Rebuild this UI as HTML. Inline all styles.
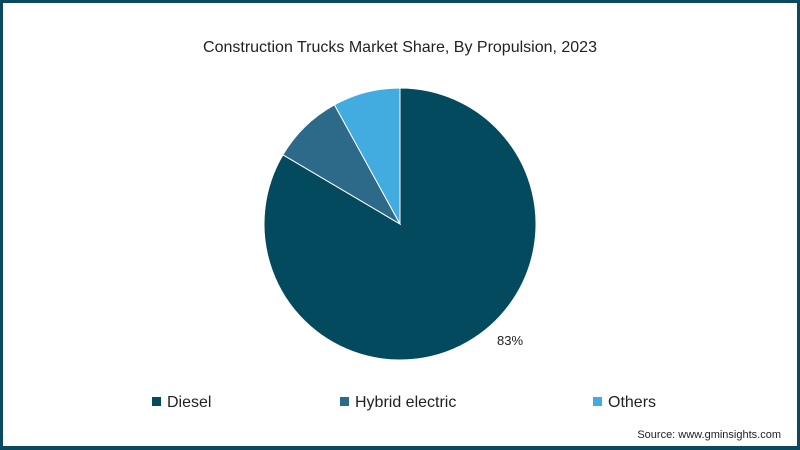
<!DOCTYPE html>
<html><head><meta charset="utf-8"><style>
body{margin:0;width:800px;height:450px;overflow:hidden;font-family:"Liberation Sans",sans-serif;}
#frame{position:absolute;left:0;top:0;width:794px;height:443px;border:3px solid #0b4a5e;border-bottom-width:4px;background:#fff;}
</style></head><body>
<div id="frame"></div>
<svg id="chart" width="800" height="450" style="position:absolute;left:0;top:0">
<text x="400" y="52" text-anchor="middle" font-size="16" fill="#222">Construction Trucks Market Share, By Propulsion, 2023</text>
<g id="slices"></g>
<text x="497" y="345" font-size="13" fill="#222">83%</text>
<g id="legend"></g>
<text x="781" y="438" text-anchor="end" font-size="11" fill="#222">Source: www.gminsights.com</text>
</svg>
<script>
const categories=["Diesel","Hybrid electric","Others"];
const values=[83.5,8.5,8];
const colors=["#034a5f","#2d6a8a","#42abe0"];
const ns="http://www.w3.org/2000/svg";
const cx=400,cy=224,r=136;
const total=values.reduce((a,b)=>a+b,0);
let ang=0;
const g=document.getElementById('slices');
values.forEach((v,i)=>{
 const a0=ang,a1=ang+v/total*2*Math.PI;ang=a1;
 const x0=cx+r*Math.sin(a0),y0=cy-r*Math.cos(a0),x1=cx+r*Math.sin(a1),y1=cy-r*Math.cos(a1);
 const p=document.createElementNS(ns,'path');
 p.setAttribute('d',`M${cx},${cy}L${x0},${y0}A${r},${r} 0 ${a1-a0>Math.PI?1:0} 1 ${x1},${y1}Z`);
 p.setAttribute('fill',colors[i]);p.setAttribute('stroke','#fff');p.setAttribute('stroke-width','1');
 
 
 g.appendChild(p);
});
const lx=[152,340,593];
const lg=document.getElementById('legend');
categories.forEach((c,i)=>{
 const e=document.createElementNS(ns,'g');
 
 
 const rc=document.createElementNS(ns,'rect');
 rc.setAttribute('x',lx[i]);rc.setAttribute('y',397);rc.setAttribute('width',9);rc.setAttribute('height',9);rc.setAttribute('fill',colors[i]);
 const t=document.createElementNS(ns,'text');
 t.setAttribute('x',lx[i]+15);t.setAttribute('y',407);t.setAttribute('font-size','16');t.setAttribute('fill','#222');
 t.textContent=c;
 e.appendChild(rc);e.appendChild(t);lg.appendChild(e);
});
</script>
</body></html>
